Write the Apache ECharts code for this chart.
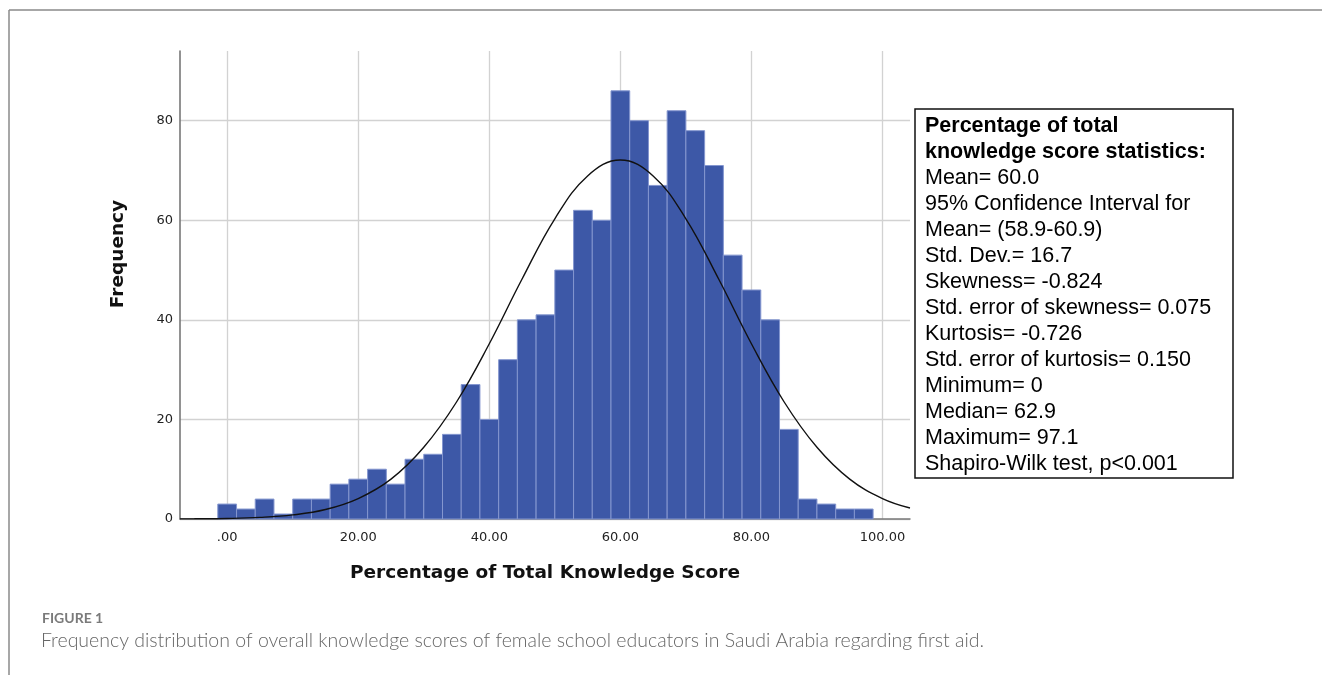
<!DOCTYPE html>
<html>
<head>
<meta charset="utf-8">
<script src="https://cdn.jsdelivr.net/npm/echarts@6/dist/echarts.min.js"></script>
<style>
html,body{margin:0;padding:0;background:#fff;}
#chart{width:1322px;height:675px;}
</style>
</head>
<body>
<div id="chart"></div>
<script>
// Bin centres (percentage of total knowledge score) and frequencies
const binCenters = [0, 2.86, 5.71, 8.57, 11.43, 14.29, 17.14, 20, 22.86, 25.71, 28.57, 31.43, 34.29, 37.14, 40, 42.86, 45.71, 48.57, 51.43, 54.29, 57.14, 60, 62.86, 65.71, 68.57, 71.43, 74.29, 77.14, 80, 82.86, 85.71, 88.57, 91.43, 94.29, 97.14];
const frequencies = [3, 2, 4, 1, 4, 4, 7, 8, 10, 7, 12, 13, 17, 27, 20, 32, 40, 41, 50, 62, 60, 86, 80, 67, 82, 78, 71, 53, 46, 40, 18, 4, 3, 2, 2];
const binWidth = 2.86;

// Normal curve points
const curveX = [-7.2, -5, 0, 5, 10, 15, 20, 25, 30, 35, 40, 45, 50, 55, 60, 65, 70, 75, 80, 85, 90, 95, 100, 104.2];
const curveY = [0.02, 0.04, 0.11, 0.32, 0.82, 1.9, 4.1, 8.0, 14.4, 23.5, 35.2, 48.2, 60.3, 68.9, 72.1, 68.9, 60.3, 48.2, 35.2, 23.5, 14.4, 8.0, 4.1, 2.2];

// Tick values
const xTickValues = [0, 20, 40, 60, 80, 100];
const yTickValues = [0, 20, 40, 60, 80];

// Stats box text
const statsTitle = ['Percentage of total', 'knowledge score statistics:'];
const statsLines = ['Mean= 60.0', '95% Confidence Interval for', 'Mean= (58.9-60.9)', 'Std. Dev.= 16.7', 'Skewness= -0.824', 'Std. error of skewness= 0.075', 'Kurtosis= -0.726', 'Std. error of kurtosis= 0.150', 'Minimum= 0', 'Median= 62.9', 'Maximum= 97.1', 'Shapiro-Wilk test, p<0.001'];

const xTitle = 'Percentage of Total Knowledge Score';
const yTitle = 'Frequency';
const figLabel = 'FIGURE 1';
const caption = 'Frequency distribution of overall knowledge scores of female school educators in Saudi Arabia regarding first aid.';

const chart = echarts.init(document.getElementById('chart'), null, {renderer: 'canvas'});

const barData = binCenters.map((c, i) => [c, frequencies[i]]);
const curveData = curveX.map((x, i) => [x, curveY[i]]);

const statsText = statsTitle.map(t => '{b|' + t + '}').concat(statsLines.map(t => '{n|' + t + '}')).join('\n');

const option = {
  animation: false,
  backgroundColor: '#ffffff',
  grid: {left: 180, right: 412, top: 51, bottom: 156, containLabel: false},
  xAxis: {
    type: 'value',
    min: -7.2,
    max: 104.2,
    name: xTitle,
    nameLocation: 'middle',
    nameGap: 45,
    nameTextStyle: {fontFamily: 'DejaVu Sans', fontWeight: 'bold', fontSize: 18.5, color: '#111', verticalAlign: 'top'},
    axisLine: {show: true, onZero: false, lineStyle: {color: '#7a7a7a', width: 1.5}},
    axisTick: {show: false, customValues: xTickValues},
    axisLabel: {
      customValues: xTickValues,
      margin: 12,
      fontFamily: 'DejaVu Sans', fontSize: 13, color: '#222',
      formatter: v => (v === 0 ? '.00' : v.toFixed(2))
    },
    splitLine: {show: true, lineStyle: {color: '#d2d2d2', width: 1.3}}
  },
  yAxis: {
    type: 'value',
    min: 0,
    max: 94,
    interval: 20,
    axisLine: {show: true, onZero: false, lineStyle: {color: '#6e6e6e', width: 1.5}},
    axisTick: {show: false, customValues: yTickValues},
    axisLabel: {
      customValues: yTickValues,
      margin: 7,
      fontFamily: 'DejaVu Sans', fontSize: 13, color: '#222'
    },
    splitLine: {show: true, lineStyle: {color: '#d2d2d2', width: 1.3}}
  },
  series: [
    {
      type: 'custom',
      data: barData,
      encode: {x: 0, y: 1},
      z: 2,
      renderItem: function (params, api) {
        const x = api.value(0), y = api.value(1);
        const p0 = api.coord([x - binWidth / 2, y]);
        const p1 = api.coord([x + binWidth / 2, 0]);
        return {
          type: 'rect',
          shape: {x: p0[0], y: p0[1], width: p1[0] - p0[0], height: p1[1] - p0[1]},
          style: {fill: '#3d58a7', stroke: '#8496cf', lineWidth: 1}
        };
      }
    },
    {
      type: 'line',
      data: curveData,
      smooth: 0.4,
      showSymbol: false,
      symbol: 'none',
      z: 5,
      lineStyle: {color: '#111111', width: 1.4}
    }
  ],
  graphic: [
    {type: 'line', shape: {x1: 9, y1: 10, x2: 1322, y2: 10}, style: {stroke: '#8a8a8a', lineWidth: 1.5}, silent: true},
    {type: 'line', shape: {x1: 9, y1: 10, x2: 9, y2: 675}, style: {stroke: '#8a8a8a', lineWidth: 1.5}, silent: true},
    {
      type: 'text', x: 118, y: 254, rotation: Math.PI / 2,
      style: {text: yTitle, fontFamily: 'DejaVu Sans', fontWeight: 'bold', fontSize: 18.5, fill: '#111', align: 'center', verticalAlign: 'middle'}
    },
    {type: 'rect', shape: {x: 915, y: 109, width: 318, height: 369}, style: {fill: '#fff', stroke: '#111', lineWidth: 1.5}, z: 10},
    {
      type: 'text', x: 925, y: 113, z: 11,
      style: {
        text: statsText,
        rich: {
          b: {fontFamily: 'Liberation Sans', fontWeight: 'bold', fontSize: 21.5, lineHeight: 26, fill: '#000'},
          n: {fontFamily: 'Liberation Sans', fontSize: 21.5, lineHeight: 26, fill: '#000'}
        },
        verticalAlign: 'top', align: 'left'
      }
    },
    {type: 'text', x: 42, y: 618, style: {text: figLabel, fontFamily: 'Lato', fontWeight: 'bold', fontSize: 14, fill: '#7a7a7a', verticalAlign: 'middle'}},
    {type: 'text', x: 41, y: 641, style: {text: caption, fontFamily: 'Lato', fontWeight: 300, fontSize: 19.5, fill: '#666', verticalAlign: 'middle'}}
  ]
};

chart.setOption(option);
</script>
</body>
</html>
